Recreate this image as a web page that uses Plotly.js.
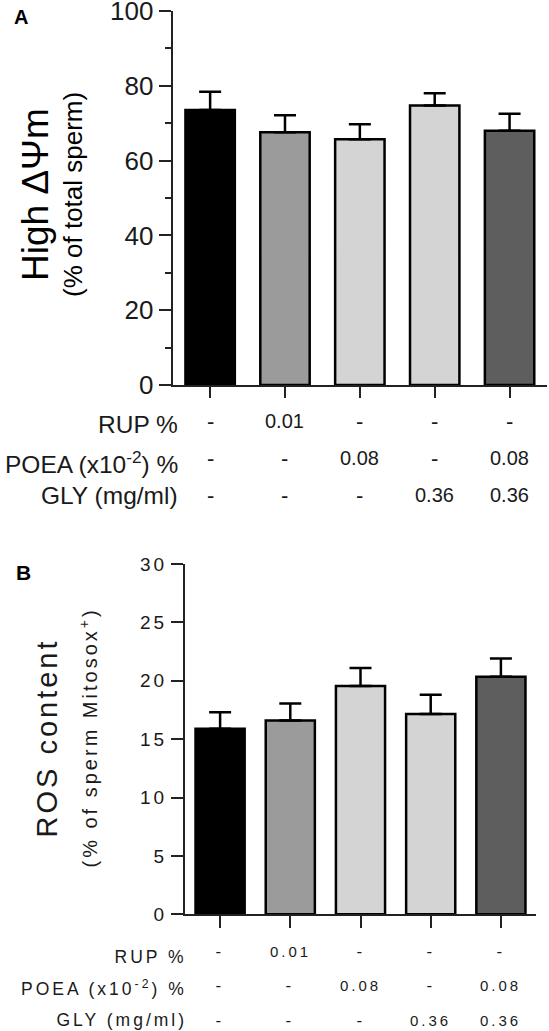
<!DOCTYPE html>
<html>
<head>
<meta charset="utf-8">
<script src="https://cdn.plot.ly/plotly-3.0.1.min.js"></script>
<style>
html, body { margin: 0; padding: 0; background: #fff; }
#chart { width: 549px; height: 1031px; }
</style>
</head>
<body>
<div id="chart"></div>
<script>
// ---------- data ----------
const categories = ["Control", "RUP", "POEA", "GLY", "POEA+GLY"];
const mmpMean = [73.5, 67.6, 65.7, 74.7, 68.0];      // High ΔΨm (% of total sperm)
const mmpSem  = [4.9, 4.5, 4.0, 3.3, 4.5];
const rosMean = [15.9, 16.6, 19.55, 17.15, 20.35];   // ROS content (% of sperm Mitosox+)
const rosSem  = [1.4, 1.45, 1.55, 1.65, 1.55];
const rowLabels = ["RUP %", "POEA (x10<sup>-2</sup>) %", "GLY (mg/ml)"];
const rupVals  = ["-", "0.01", "-", "-", "-"];
const poeaVals = ["-", "-", "0.08", "-", "0.08"];
const glyVals  = ["-", "-", "-", "0.36", "0.36"];

// ---------- style ----------
const W = 549, H = 1031;
const FONT = "Liberation Sans, Arial, Helvetica, sans-serif";
const INK = "#1a1a1a";
const barColors = ["#000000", "#9b9b9b", "#d4d4d4", "#d4d4d4", "#5e5e5e"];
const px = v => v / W;
const py = v => 1 - v / H;

const traces = [
  {
    type: "bar", x: categories, y: mmpMean, xaxis: "x", yaxis: "y",
    width: 0.66,
    marker: { color: barColors, line: { color: "#000", width: 2.5 } },
    error_y: { type: "data", array: mmpSem, arrayminus: mmpSem.map(() => 0), symmetric: false,
               color: "#000", thickness: 2.5, width: 11 },
    hoverinfo: "skip"
  },
  {
    type: "bar", x: categories, y: rosMean, xaxis: "x2", yaxis: "y2",
    width: 0.70,
    marker: { color: barColors, line: { color: "#000", width: 2.5 } },
    error_y: { type: "data", array: rosSem, arrayminus: rosSem.map(() => 0), symmetric: false,
               color: "#000", thickness: 2.5, width: 11 },
    hoverinfo: "skip"
  }
];

const annotations = [];
const spacedIdx = [];
const bRowLabelIdx = [];
function ann(o, spaced) {
  if (spaced) spacedIdx.push(annotations.length);
  annotations.push(Object.assign({ showarrow: false, xref: "paper", yref: "paper" }, o));
  return annotations.length - 1;
}

// Panel letters
ann({ text: "<b>A</b>", x: px(12), y: py(17), xanchor: "left", yanchor: "middle",
      font: { family: FONT, size: 20, color: "#000" } });
ann({ text: "<b>B</b>", x: px(14), y: py(572), xanchor: "left", yanchor: "middle",
      font: { family: FONT, size: 21, color: "#000" } });

// Y titles panel A
ann({ text: "High ΔΨm", textangle: -90, x: px(35), y: py(195), xanchor: "center", yanchor: "middle",
      font: { family: FONT, size: 37, color: "#000" } });
ann({ text: "(% of total sperm)", textangle: -90, x: px(73), y: py(195), xanchor: "center", yanchor: "middle",
      font: { family: FONT, size: 26, color: "#000" } });
// Y titles panel B
ann({ text: "ROS content", textangle: -90, x: px(47), y: py(738), xanchor: "center", yanchor: "middle",
      font: { family: FONT, size: 29, color: INK } }, true);
ann({ text: "(% of sperm Mitosox<sup>+</sup>)", textangle: -90, x: px(88), y: py(738), xanchor: "center", yanchor: "middle",
      font: { family: FONT, size: 20, color: INK } }, true);

// Table panel A
const rowsVals = [rupVals, poeaVals, glyVals];
const aLabelY = [425, 463, 495], aValY = [421, 458, 495];
const bLabelY = [957, 988, 1020], bValY = [951, 985, 1020];
rowLabels.forEach((lab, r) => {
  ann({ text: lab, x: px(180), y: py(aLabelY[r]), xanchor: "right", yanchor: "middle",
        font: { family: FONT, size: 24.5, color: INK } });
  rowsVals[r].forEach((v, i) => {
    ann({ text: v, xref: "x", x: categories[i], y: py(aValY[r]), xanchor: "center", yanchor: "middle",
          font: { family: FONT, size: v === "-" ? 22 : 20, color: INK } });
  });
});
// Table panel B
const B_LABEL_RIGHT = 187;
rowLabels.forEach((lab, r) => {
  bRowLabelIdx.push(ann({ text: lab, x: px(B_LABEL_RIGHT - 50), y: py(bLabelY[r]), xanchor: "center", yanchor: "middle",
        font: { family: FONT, size: 17.5, color: INK } }, true));
  rowsVals[r].forEach((v, i) => {
    ann({ text: v, xref: "x2", x: categories[i], y: py(bValY[r]), xanchor: "center", yanchor: "middle",
          font: { family: FONT, size: v === "-" ? 17 : 15, color: INK } }, true);
  });
});

const axLine = { showline: true, linecolor: "#222", linewidth: 2, showgrid: false, zeroline: false };

const layout = {
  width: W, height: H,
  margin: { l: 0, r: 0, t: 0, b: 0, pad: 0 },
  paper_bgcolor: "#fff", plot_bgcolor: "#fff",
  showlegend: false,
  xaxis: Object.assign({}, axLine, {
    domain: [px(172.7), px(547)], anchor: "y", type: "category", range: [-0.5, 4.5],
    showticklabels: false, ticks: "outside", ticklen: 11, tickwidth: 2, tickcolor: "#222"
  }),
  yaxis: Object.assign({}, axLine, {
    domain: [py(385), py(11)], anchor: "x", range: [0, 100],
    tickmode: "linear", tick0: 0, dtick: 20, ticklabeloverflow: "allow",
    ticks: "outside", ticklen: 12, tickwidth: 2, tickcolor: "#222",
    tickfont: { family: FONT, size: 26, color: INK },
    minor: { tickmode: "linear", tick0: 0, dtick: 10, ticks: "outside", ticklen: 6, tickwidth: 2, tickcolor: "#222" }
  }),
  xaxis2: Object.assign({}, axLine, {
    domain: [px(185), px(536)], anchor: "y2", type: "category", range: [-0.5, 4.5],
    showticklabels: false, ticks: "outside", ticklen: 12, tickwidth: 2, tickcolor: "#222"
  }),
  yaxis2: Object.assign({}, axLine, {
    domain: [py(914.3), py(564)], anchor: "x2", range: [0, 30],
    tickmode: "linear", tick0: 0, dtick: 5, ticklabeloverflow: "allow",
    ticks: "outside", ticklen: 12, tickwidth: 2, tickcolor: "#222",
    tickfont: { family: FONT, size: 19, color: INK }
  }),
  annotations: annotations
};

// letter spacing for panel B texts (the reference uses a tracked font there)
const css = [".y2tick text { letter-spacing: 3px; }"];
spacedIdx.forEach(i => css.push('.annotation[data-index="' + i + '"] text { letter-spacing: 3px; }'));
const st = document.createElement("style");
st.textContent = css.join("\n");
document.head.appendChild(st);

Plotly.newPlot("chart", traces, layout, { staticPlot: true, displayModeBar: false }).then(gd => {
  // right-align the tracked panel-B row labels using their real (spaced) widths
  const upd = {};
  bRowLabelIdx.forEach(i => {
    const t = gd.querySelector('.annotation[data-index="' + i + '"] text');
    if (!t) return;
    const w = t.getBBox().width;
    upd["annotations[" + i + "].x"] = px(B_LABEL_RIGHT - w / 2);
  });
  return Plotly.relayout(gd, upd);
});
</script>
</body>
</html>
